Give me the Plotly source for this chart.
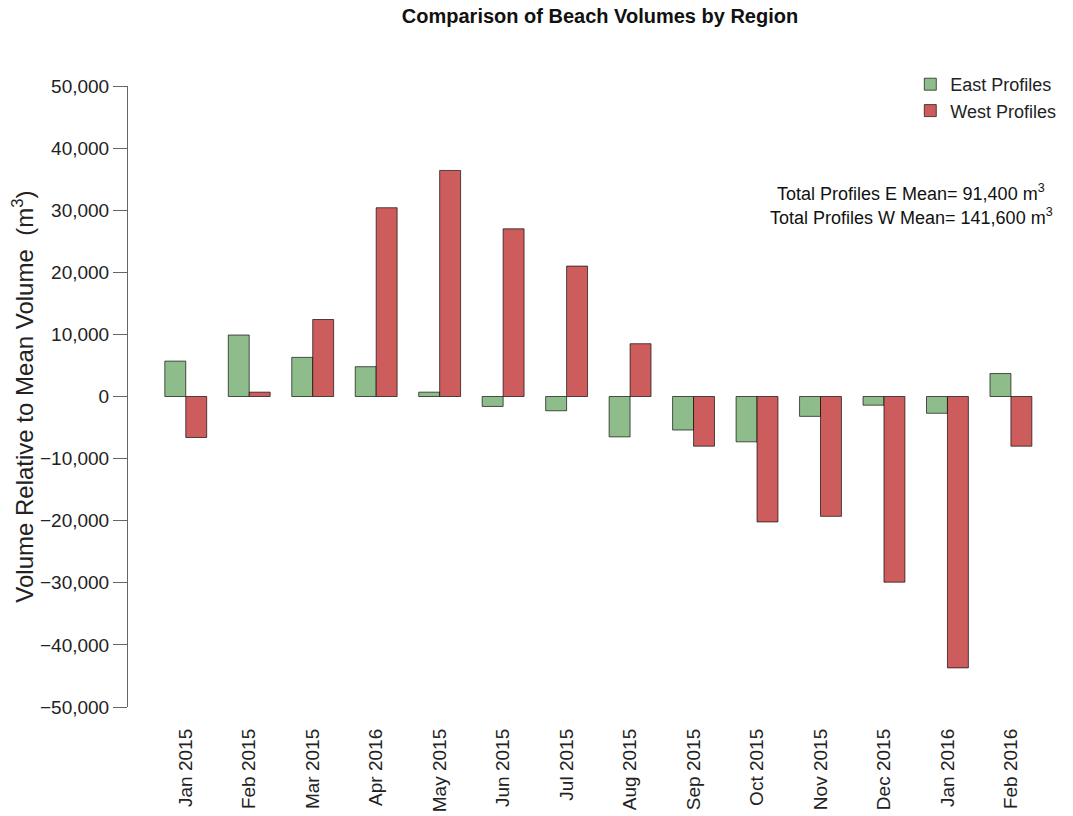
import plotly.graph_objects as go

months = ["Jan 2015", "Feb 2015", "Mar 2015", "Apr 2016", "May 2015", "Jun 2015", "Jul 2015",
          "Aug 2015", "Sep 2015", "Oct 2015", "Nov 2015", "Dec 2015", "Jan 2016", "Feb 2016"]
east = [5700, 9900, 6300, 4800, 700, -1600, -2300, -6500, -5400, -7300, -3200, -1400, -2700, 3700]
west = [-6600, 700, 12400, 30400, 36400, 27000, 21000, 8500, -8000, -20200, -19300, -29900, -43700, -8000]
yticks = list(range(-50000, 50001, 10000))
notes = ["Total Profiles E Mean= 91,400 m<sup>3</sup>", "Total Profiles W Mean= 141,600 m<sup>3</sup>"]

FONT = "Liberation Sans, Arial, sans-serif"
OFF = 8  # page body margin
W, H = 1073 - OFF, 816 - OFF
L, R, T, B = 128 - OFF, 22, 86 - OFF, 109
pw = W - L - R
ph = H - T - B

fig = go.Figure()
fig.add_trace(go.Bar(x=months, y=east, name="East Profiles",
                     marker=dict(color="#8fbc8b", line=dict(color="rgba(0,0,0,0.65)", width=1))))
fig.add_trace(go.Bar(x=months, y=west, name="West Profiles",
                     marker=dict(color="#cd5c5c", line=dict(color="rgba(0,0,0,0.65)", width=1))))

fig.update_layout(
    width=W, height=H,
    margin=dict(l=L, r=R, t=T, b=B),
    paper_bgcolor="white", plot_bgcolor="white",
    font=dict(family=FONT, size=18, color="#222"),
    barmode="group", bargap=0.34, bargroupgap=0,
    title=dict(text="<b>Comparison of Beach Volumes by Region</b>",
               x=(600 - OFF) / W, xref="container", xanchor="center",
               y=1 - 1 / H, yref="container", yanchor="top",
               font=dict(size=20, color="#111")),
    legend=dict(x=(912 - 128) / pw, xanchor="left", y=1 + 20 / ph, yanchor="top",
                bgcolor="rgba(0,0,0,0)", font=dict(size=18), itemwidth=30),
    showlegend=True,
)

fig.update_xaxes(type="category", range=[-0.91, 13.6], showgrid=False, zeroline=False,
                 showline=False, ticks="", tickangle=-90, ticklabelstandoff=17,
                 automargin=False, tickfont=dict(size=19, color="#222"))
fig.update_yaxes(range=[-50000, 50000], tickvals=yticks, tickformat=",", showgrid=False,
                 zeroline=False, showline=True, linecolor="#666", linewidth=1,
                 ticks="outside", ticklen=14, tickcolor="#666", automargin=False,
                 tickfont=dict(size=19, color="#222"))

fig.add_annotation(text="Volume Relative to Mean Volume  (m<sup>3</sup>)", textangle=-90,
                   xref="paper", yref="paper", x=(22 - 128) / pw, y=0.5,
                   xanchor="center", yanchor="middle", showarrow=False,
                   font=dict(size=24, color="#222"))
for i, txt in enumerate(notes):
    fig.add_annotation(text=txt, xref="paper", yref="paper",
                       x=(913 - 128) / pw, y=(707 - 192 - 24 * i) / ph,
                       xanchor="center", yanchor="middle", showarrow=False,
                       font=dict(size=18, color="#111"))

fig.write_html("out.html")
